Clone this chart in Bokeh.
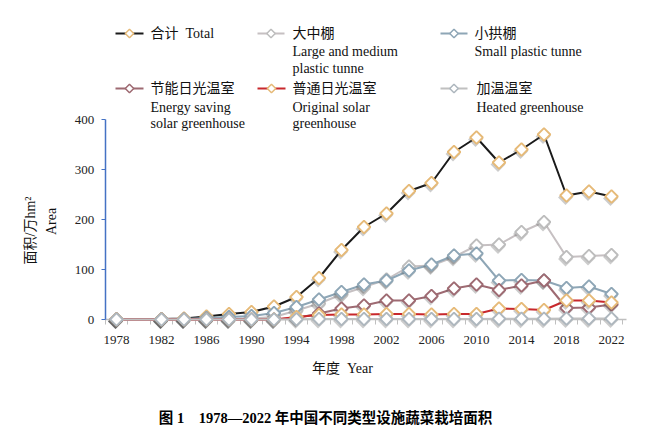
from bokeh.plotting import figure
from bokeh.models import FixedTicker, Range1d
from bokeh.core.properties import value
from bokeh.embed import file_html
from bokeh.resources import INLINE
import math

# ---------------- data ----------------
years = [1978, 1982, 1984, 1986, 1988, 1990, 1992, 1994, 1996, 1998, 2000,
         2002, 2004, 2006, 2008, 2010, 2012, 2014, 2016, 2018, 2020, 2022]
total = [0.5, 1, 2, 6, 11, 15, 26, 45, 83, 139, 185, 212, 257, 273, 335, 364,
         314, 340, 370, 248, 256, 246]
large_medium = [0, 0, 0, 0.5, 1, 2, 5, 18, 32, 50, 65, 80, 106, 108, 125, 148,
                150, 175, 195, 125, 127, 129]
small_tunnel = [0.3, 0.5, 1, 3, 5, 7, 13, 25, 40, 55, 70, 78, 98, 110, 128, 132,
                78, 79, 78, 63, 66, 51]
energy_saving = [0, 0, 0, 0, 0, 0, 0, 3, 12, 22, 28, 38, 38, 47, 62, 70, 59, 68,
                 78, 23, 24, 30]
original_solar = [0, 0, 0, 0, 0, 0, 0, 5, 9, 10, 10, 11, 11, 10, 11, 11, 22, 21,
                  19, 38, 38, 34]
heated = [0, 0, 0, 0, 0, 0, 0, 0.5, 1, 1, 1, 1, 1, 1, 1, 1, 1.5, 1.5, 1.5, 2, 2, 2]

label_years = [1978, 1982, 1986, 1990, 1994, 1998, 2002, 2006, 2010, 2014, 2018, 2022]
minor_years = list(range(1977, 2024, 2))
y_ticks = [0, 100, 200, 300, 400]

NB = "\u00a0"
series = [
    # (values, line colour, marker edge, cn, en lines)
    (total, "#1a1a1a", "#E6BA78", "合计" + NB * 2 + "Total", []),
    (large_medium, "#C6C0C2", "#BDBDBD", "大中棚", ["Large and medium", "plastic tunne"]),
    (small_tunnel, "#8EA6B6", "#8EA6B6", "小拱棚", ["Small plastic tunne"]),
    (energy_saving, "#9E6A72", "#9E6A72", "节能日光温室", ["Energy saving", "solar greenhouse"]),
    (original_solar, "#C8282C", "#E6BA78", "普通日光温室", ["Original solar", "greenhouse"]),
    (heated, "#C0C0C0", "#AEB7BE", "加温温室", ["Heated greenhouse"]),
]

FONT = value("'Liberation Serif', 'Noto Sans CJK SC'")

# pixel helpers for placing legend / titles (picture coordinates)
def X(px):
    return 1978 + (px - 116) / 11.25

def Y(py):
    return (319 - py) * 2

H = 430
p = figure(width=636, height=H, output_backend="svg", toolbar_location=None,
           x_range=Range1d(X(0), X(636)), y_range=Range1d(Y(H), Y(0)),
           min_border=0)
p.outline_line_color = None
p.grid.visible = False

xa = p.xaxis[0]
xa.fixed_location = 0
xa.bounds = (1977, 2023.3)
xa.ticker = FixedTicker(ticks=label_years, minor_ticks=minor_years)
xa.major_tick_out = 0
xa.major_tick_in = 0
xa.minor_tick_out = 5
xa.minor_tick_in = 0
xa.axis_line_color = "#BFBFBF"
xa.axis_line_width = 1.5
xa.minor_tick_line_color = "#BFBFBF"
xa.major_label_text_font = "Liberation Serif"
xa.major_label_text_font_size = "13px"
xa.major_label_text_color = "#222222"
xa.major_label_standoff = 11
xa.level = "underlay"

ya = p.yaxis[0]
ya.fixed_location = 1977
ya.bounds = (0, 400)
ya.ticker = FixedTicker(ticks=y_ticks, minor_ticks=[])
ya.axis_line_color = "#4472C4"
ya.axis_line_width = 1.5
ya.major_tick_line_color = "#4472C4"
ya.major_tick_out = 4
ya.major_tick_in = 0
ya.minor_tick_line_color = None
ya.major_label_text_font = "Liberation Serif"
ya.major_label_text_font_size = "13px"
ya.major_label_text_color = "#222222"
ya.major_label_standoff = 7
ya.level = "underlay"

ANG = math.pi / 4
dx_sh = -1 / 11.25
dy_sh = -2 * 2

for vals, lc, mc, cn, en in series:
    p.line(years, vals, line_color=lc, line_width=2)
    p.scatter([y + dx_sh for y in years], [v + dy_sh for v in vals], marker="square",
              angle=ANG, size=10.5, fill_color="#555555", fill_alpha=0.3,
              line_color=None)
    p.scatter(years, vals, marker="square", angle=ANG, size=9, fill_color="white",
              line_color=mc, line_width=1.9)

# ---------------- legend ----------------
legend_pos = [(115, 143, 33), (257, 284, 33), (440, 467, 33),
              (115, 143, 88), (257, 285, 88), (440, 467, 88)]
text_x = [150, 292, 474, 150, 292, 476]
for (vals, lc, mc, cn, en), (x0, x1, yy), tx in zip(series, legend_pos, text_x):
    p.segment(x0=[X(x0)], y0=[Y(yy)], x1=[X(x1)], y1=[Y(yy)], line_color=lc, line_width=2)
    p.scatter([X((x0 + x1) / 2)], [Y(yy)], marker="square", angle=ANG, size=6,
              fill_color="white", line_color=mc, line_width=1.5)
    p.text([X(tx)], [Y(yy)], text=[cn], text_font=FONT, text_font_size="14px",
           text_baseline="middle", text_align="left", text_color="#111111")
    for i, line in enumerate(en):
        ly = yy + 18 + i * 17 if yy == 33 else yy + 19 + i * 16
        p.text([X(tx)], [Y(ly)], text=[line], text_font=FONT, text_font_size="14px",
               text_baseline="middle", text_align="left", text_color="#111111")

# ---------------- axis titles & caption ----------------
p.text([X(30)], [Y(230)], text=["面积/万hm²"], angle=math.pi / 2, text_font=FONT,
       text_font_size="14px", text_baseline="middle", text_align="center",
       text_color="#111111")
p.text([X(51)], [Y(221)], text=["Area"], angle=math.pi / 2, text_font=FONT,
       text_font_size="14px", text_baseline="middle", text_align="center",
       text_color="#111111")
p.text([X(342)], [Y(368)], text=["年度" + NB * 2 + "Year"], text_font=FONT,
       text_font_size="14px", text_baseline="middle", text_align="center",
       text_color="#111111")
p.text([X(325)], [Y(417)], text=["图" + NB + "1" + NB * 4 + "1978—2022" + NB + "年中国不同类型设施蔬菜栽培面积"],
       text_font=FONT, text_font_size="14.5px", text_font_style="bold",
       text_baseline="middle", text_align="center", text_color="#000000")

open("out.html", "w").write(file_html(p, INLINE))
